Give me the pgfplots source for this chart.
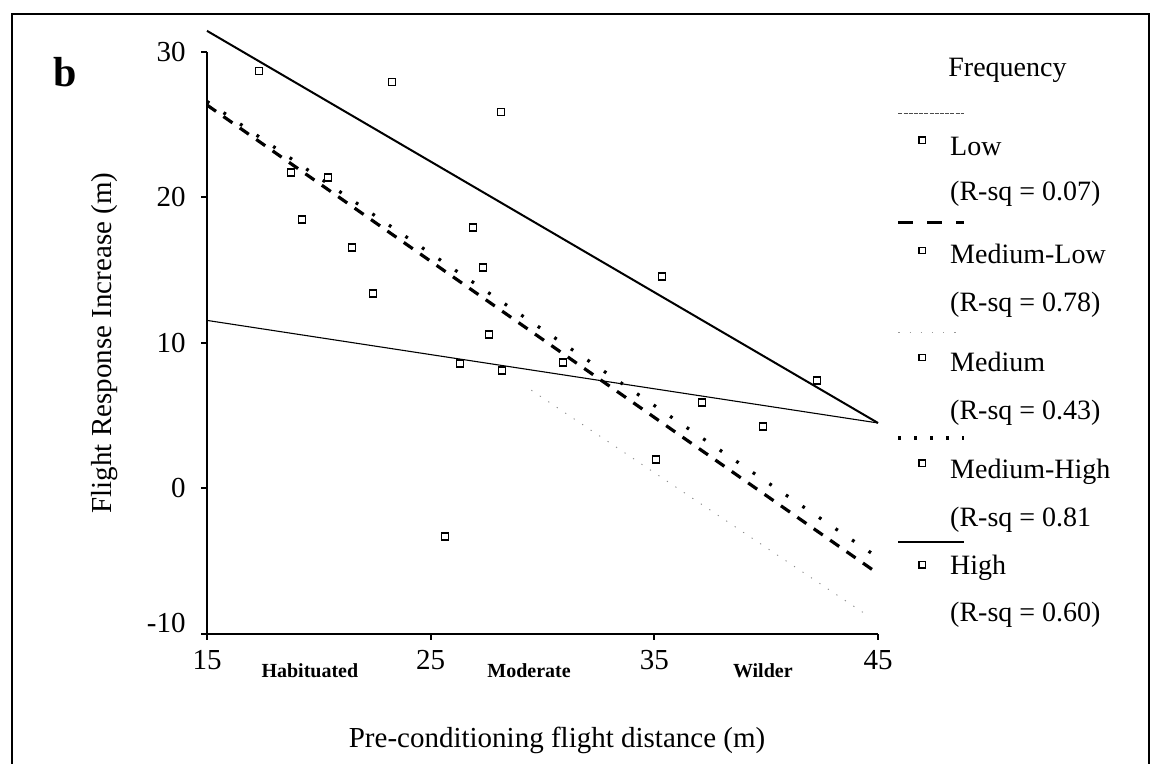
\documentclass[border=0pt]{standalone}
\usepackage{fontspec}
\setmainfont{Liberation Serif}
\usepackage{pgfplots}
\pgfplotsset{compat=1.18}

\newcommand{\lgfont}{\fontsize{14bp}{18bp}\selectfont}
% legend key: line sample above (overlay), open square below
% #1 line style, #2 line height, #3/#4 square bottom/top
\pgfplotsset{
  sqkey/.style n args={4}{legend image code/.code={
    \draw[overlay,#1] (-12bp,#2) -- (21bp,#2);
    \draw[solid,black,line width=0.7bp,fill=white] (-1.6bp,#3) rectangle (1.6bp,#4);
  }},
}
% legend text: label lowered by #1, R-sq line #2 below the row
\newcommand{\lgtxt}[4]{\rlap{\smash{\raisebox{-#2}{#4}}}\smash{\raisebox{-#1}{#3}}}

\begin{document}
\begin{tikzpicture}
\begin{axis}[
  scale only axis,
  width=335.5bp, height=291bp,
  xmin=15, xmax=45, ymin=-10, ymax=30,
  clip=false,
  axis x line*=bottom, axis y line*=left,
  axis line style={line width=1bp},
  xtick={15,25,35,45}, ytick={0,10,20,30},
  extra y ticks={-10},
  extra y tick style={yticklabel style={yshift=5.5bp}},
  tick align=outside, major tick length=3bp,
  tick style={black, line width=1bp},
  /pgf/number format/assume math mode=true,
  ticklabel style={font=\fontsize{14.5bp}{17bp}\selectfont, inner sep=0pt},
  yticklabel style={xshift=-7.5bp},
  xticklabel style={yshift=-5bp},
  legend style={draw=none, fill=none, inner sep=0pt,
    at={(axis cs:46.79,24.23)}, anchor=north west,
    row sep=44.2bp, column sep=12bp,
    font=\lgfont, nodes={inner sep=0pt},
    cells={anchor=base west}},
  legend columns=1,
]
% scatter of all observations
\addplot[only marks, mark=square, mark size=1.75bp,
  mark options={black, line width=0.8bp, fill=white}, forget plot] table {
x y
17.32 28.69
23.27 27.94
28.14 25.88
18.75 21.72
20.41 21.37
19.25 18.49
26.89 17.94
21.48 16.56
27.34 15.19
35.34 14.57
22.42 13.40
27.61 10.58
26.31 8.59
28.19 8.11
30.91 8.66
37.13 5.91
42.27 7.42
39.85 4.26
35.07 1.99
25.64 -3.30
};
% fitted lines
\addplot[black, line width=0.55bp, forget plot] coordinates {(15,11.55) (45,4.5)};
\addplot[black, line width=1.6bp, dash pattern=on 5.5bp off 4.5bp, forget plot] coordinates {(15,26.35) (45,-5.85)};
\addplot[black!45, line width=0.45bp, dash pattern=on 0.6bp off 4.5bp, forget plot] coordinates {(29.5,6.75) (44.6,-8.8)};
\addplot[black, line width=1.6bp, dash pattern=on 1.4bp off 8.6bp, forget plot] coordinates {(15,26.6) (45,-4.75)};
\addplot[black, line width=1bp, forget plot] coordinates {(15,31.45) (45,4.5)};

% legend
\addlegendimage{sqkey={black!70, line width=0.6bp, dash pattern=on 2bp off 0.6bp}{21bp}{5.9bp}{9.1bp}}
\addlegendentry{\lgtxt{0bp}{22.5bp}{Low}{(R-sq = 0.07)}}
\addlegendimage{sqkey={black, line width=1.9bp, dash pattern=on 7.5bp off 7bp}{19.9bp}{4.3bp}{7.5bp}}
\addlegendentry{\lgtxt{0.6bp}{24.6bp}{Medium-Low}{(R-sq = 0.78)}}
\addlegendimage{sqkey={black!40, line width=0.5bp, dash pattern=on 0.6bp off 5bp}{17.75bp}{3.65bp}{6.85bp}}
\addlegendentry{\lgtxt{1.75bp}{25.75bp}{Medium}{(R-sq = 0.43)}}
\addlegendimage{sqkey={black, line width=1.9bp, dash pattern=on 1.5bp off 6.5bp}{15.6bp}{1.5bp}{4.7bp}}
\addlegendentry{\lgtxt{4.4bp}{28.4bp}{Medium-High}{(R-sq = 0.81}}
\addlegendimage{sqkey={black, line width=1.2bp}{16.5bp}{3.4bp}{6.6bp}}
\addlegendentry{\lgtxt{0bp}{23.5bp}{High}{(R-sq = 0.60)}}

% labels and frame
\node[font=\lgfont, anchor=base west, inner sep=0pt] at (axis cs:48.13,28.28) {Frequency};
\node[font=\bfseries\fontsize{21bp}{24bp}\selectfont] at (axis cs:8.65,28.63) {b};
\node[rotate=90, font=\fontsize{14.5bp}{17bp}\selectfont] at (axis cs:10.4,10) {Flight Response Increase (m)};
\node[font=\fontsize{14.5bp}{17bp}\selectfont] at (axis cs:30.65,-17.29) {Pre-conditioning flight distance (m)};
\node[font=\bfseries\fontsize{10bp}{12bp}\selectfont] at (axis cs:19.6,-12.54) {Habituated};
\node[font=\bfseries\fontsize{10bp}{12bp}\selectfont] at (axis cs:29.4,-12.54) {Moderate};
\node[font=\bfseries\fontsize{10bp}{12bp}\selectfont] at (axis cs:39.85,-12.54) {Wilder};
\draw[line width=1bp] (axis cs:6.282,-18.93) -- (axis cs:6.282,32.61)
  -- (axis cs:57.12,32.61) -- (axis cs:57.12,-18.93);
\path (axis cs:5.745,-18.93) rectangle (axis cs:57.25,33.57);
\end{axis}
\end{tikzpicture}
\end{document}
